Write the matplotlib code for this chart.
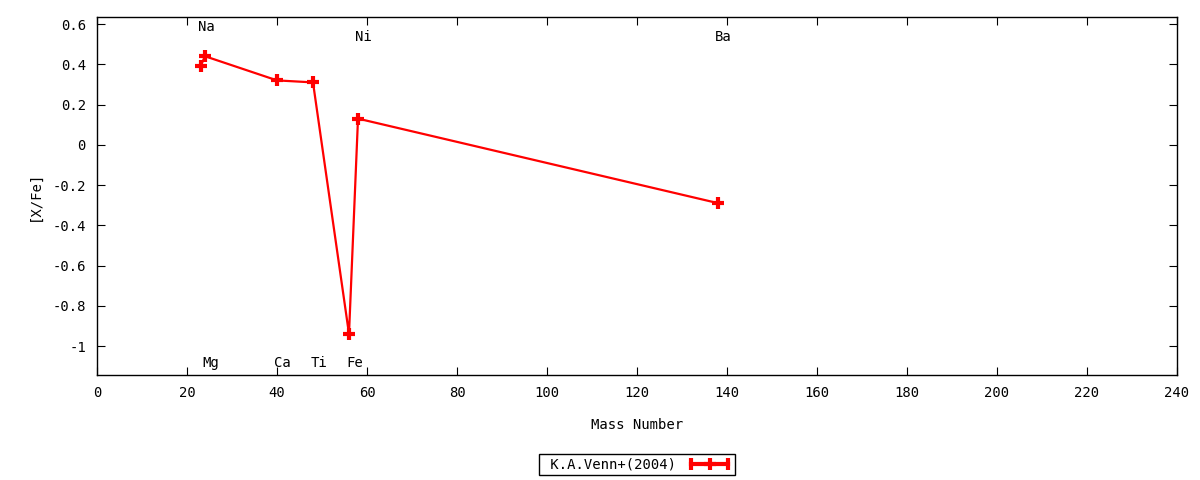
import matplotlib
matplotlib.use("Agg")
import matplotlib.pyplot as plt
from matplotlib.lines import Line2D
from matplotlib.legend_handler import HandlerLine2D, HandlerTuple

# [X/Fe] vs mass number, K.A.Venn+(2004)
elements = ["Na", "Mg", "Ca", "Ti", "Fe", "Ni", "Ba"]
mass = [23, 24, 40, 48, 56, 58, 138]
xfe = [0.39, 0.44, 0.32, 0.31, -0.94, 0.13, -0.29]
label_y = [0.585, -1.085, -1.085, -1.085, -1.085, 0.535, 0.535]

plt.rcParams["font.family"] = ["DejaVu Sans Mono"]
plt.rcParams["axes.unicode_minus"] = False
fs = 10

fig = plt.figure(figsize=(12, 4.8), dpi=100)
ax = fig.add_axes([97 / 1200, 1 - 375 / 480, 1080 / 1200, 358 / 480])

ax.plot(mass, xfe, color="red", lw=1.6, marker="+", ms=9, mew=3)

for el, m, ly in zip(elements, mass, label_y):
    ax.text(m - 0.6, ly, el, ha="left", va="center", fontsize=fs)

ax.set_xlim(0, 240)
ax.set_ylim(-1.144, 0.635)
ax.set_xticks(range(0, 241, 20))
yt = [-1, -0.8, -0.6, -0.4, -0.2, 0, 0.2, 0.4, 0.6]
ax.set_yticks(yt)
ax.set_yticklabels(["-1", "-0.8", "-0.6", "-0.4", "-0.2", "0", "0.2", "0.4", "0.6"])
ax.tick_params(direction="in", top=True, right=True, length=6, labelsize=fs, pad=8)
for s in ax.spines.values():
    s.set_linewidth(1)

ax.set_xlabel("Mass Number", fontsize=fs, labelpad=13)
ax.set_ylabel("[X/Fe]", fontsize=fs, labelpad=8)

# key sample: thick line, bars at the ends, point in the middle
h_ends = Line2D([], [], color="red", lw=3, marker="|", ms=9, mew=3)
h_mid = Line2D([], [], color="red", lw=0, marker="+", ms=9, mew=3)
leg = ax.legend([(h_ends, h_mid)], [" K.A.Venn+(2004)"],
                handler_map={h_ends: HandlerLine2D(numpoints=2),
                             h_mid: HandlerLine2D(numpoints=1),
                             tuple: HandlerTuple(ndivide=1)},
                loc="center", bbox_to_anchor=(0.5, -0.251), markerfirst=False,
                fancybox=False, edgecolor="black", framealpha=1,
                fontsize=fs, handlelength=3.2, borderpad=0.25, borderaxespad=0,
                handletextpad=0.8)
leg.get_frame().set_linewidth(1)

fig.savefig("out.png", dpi=100)
